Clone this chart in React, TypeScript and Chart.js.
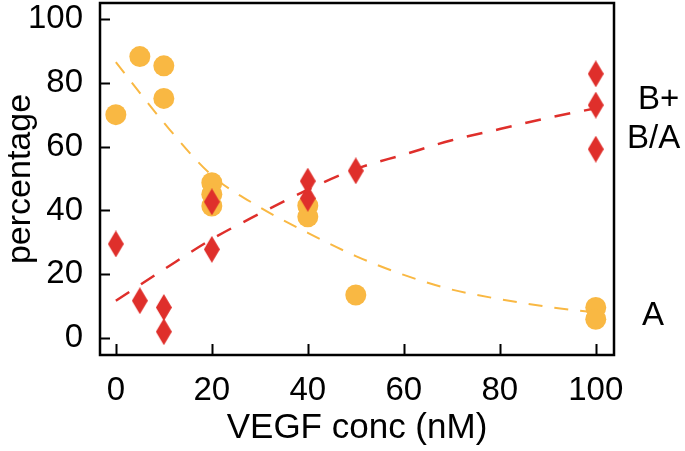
import React, { useEffect, useRef } from "react";
import { Chart, registerables } from "chart.js";

Chart.register(...registerables);

// Data
const orangeX = [0, 5, 10, 10, 20, 20, 20, 40, 40, 50, 100, 100];
const orangeY = [70, 88.2, 85.3, 75.1, 48.7, 45.1, 41.4, 41.5, 38, 13.5, 9.6, 5.9];
const redX = [0, 5, 10, 10, 20, 20, 40, 40, 50, 100, 100, 100];
const redY = [29.5, 11.7, 9.6, 2, 27.8, 42.7, 49.2, 43.8, 52.4, 82.8, 73, 59.2];
const fitX = [0, 10, 20, 30, 40, 50, 60, 70, 80, 90, 100];
const orangeFit = [86.5, 67.5, 51, 41, 33, 25.7, 19.8, 15.2, 12.2, 9.8, 8];
const redFit = [11.7, 21.5, 31, 39, 46.5, 53, 57.5, 62, 65.5, 69, 72];
const yTicks = [0, 20, 40, 60, 80, 100];
const xTicks = [0, 20, 40, 60, 80, 100];
const sideLabels = ["B+", "B/A", "A"];
const sideLabelValues = [74.6, 62.3, 7.0];

const ORANGE = "#F9B843";
const RED = "#DF2F2B";
const FONT = "'Liberation Sans', Arial, Helvetica, sans-serif";

function zip(xs: number[], ys: number[]) {
  return xs.map((x, i) => ({ x, y: ys[i] }));
}

function makeDiamond(color: string) {
  const c = document.createElement("canvas");
  const w = 16, h = 27;
  c.width = w;
  c.height = h;
  const g = c.getContext("2d")!;
  g.fillStyle = color;
  g.beginPath();
  g.moveTo(w / 2, 0);
  g.lineTo(w, h / 2);
  g.lineTo(w / 2, h);
  g.lineTo(0, h / 2);
  g.closePath();
  g.fill();
  return c;
}

const frameTicksPlugin = {
  id: "frameTicks",
  afterDatasetsDraw(chart: any) {
    const { ctx, chartArea: a, scales } = chart;
    const xs = scales.x, ys = scales.y;
    ctx.save();
    ctx.strokeStyle = "#000";
    ctx.lineWidth = 2;
    ctx.beginPath();
    yTicks.forEach((v) => {
      const py = Math.round(ys.getPixelForValue(v)) + 0.5;
      ctx.moveTo(a.left, py);
      ctx.lineTo(a.left + 10, py);
    });
    xTicks.forEach((v) => {
      const px = Math.round(xs.getPixelForValue(v)) + 0.5;
      ctx.moveTo(px, a.bottom);
      ctx.lineTo(px, a.bottom - 11);
    });
    ctx.stroke();
    ctx.lineWidth = 2.5;
    ctx.strokeRect(a.left, a.top, a.right - a.left, a.bottom - a.top);
    // side labels
    ctx.fillStyle = "#000";
    ctx.font = `33px ${FONT}`;
    ctx.textBaseline = "middle";
    const lefts = [638, 627, 642];
    sideLabels.forEach((t, i) => {
      ctx.textAlign = "left";
      ctx.fillText(t, lefts[i], ys.getPixelForValue(sideLabelValues[i]));
    });
    ctx.restore();
  },
};

export default function App() {
  const ref = useRef<HTMLCanvasElement | null>(null);
  useEffect(() => {
    if (!ref.current) return;
    const diamond = makeDiamond(RED);
    const chart = new Chart(ref.current, {
      type: "scatter",
      data: {
        datasets: [
          {
            label: "A fit",
            data: zip(fitX, orangeFit),
            showLine: true,
            borderColor: ORANGE,
            borderWidth: 2,
            borderDash: [14, 12],
            pointRadius: 0,
            cubicInterpolationMode: "monotone",
            order: 3,
          } as any,
          {
            label: "A",
            data: zip(orangeX, orangeY),
            pointStyle: "circle",
            pointRadius: 10.5,
            backgroundColor: ORANGE,
            borderColor: ORANGE,
            borderWidth: 0,
            order: 2,
          },
          {
            label: "B fit",
            data: zip(fitX, redFit),
            showLine: true,
            borderColor: RED,
            borderWidth: 2.5,
            borderDash: [16, 14],
            pointRadius: 0,
            cubicInterpolationMode: "monotone",
            order: 1,
          } as any,
          {
            label: "B+ B/A",
            data: zip(redX, redY),
            pointStyle: diamond,
            pointRadius: 10,
            backgroundColor: RED,
            borderColor: RED,
            order: 0,
          } as any,
        ],
      },
      options: {
        animation: false,
        responsive: true,
        maintainAspectRatio: false,
        plugins: { legend: { display: false }, tooltip: { enabled: false } },
        layout: { autoPadding: false, padding: { top: 3, right: 71, left: 0, bottom: 0 } },
        scales: {
          x: {
            type: "linear",
            min: -3.3,
            max: 103.8,
            afterFit: (s: any) => {
              s.height = 96;
              s.paddingLeft = 0;
              s.paddingRight = 0;
            },
            afterBuildTicks: (s: any) => {
              s.ticks = xTicks.map((v) => ({ value: v }));
            },
            grid: { display: false, drawTicks: false },
            border: { display: false },
            ticks: {
              padding: 16,
              color: "#000",
              font: { family: FONT, size: 33 },
              maxRotation: 0,
            },
            title: {
              display: true,
              text: "VEGF conc (nM)",
              color: "#000",
              font: { family: FONT, size: 35 },
              padding: { top: 0, bottom: 2 },
            },
          },
          y: {
            type: "linear",
            min: -5.3,
            max: 105,
            afterFit: (s: any) => {
              s.width = 100;
              s.paddingTop = 0;
              s.paddingBottom = 0;
            },
            afterBuildTicks: (s: any) => {
              s.ticks = yTicks.map((v) => ({ value: v }));
            },
            grid: { display: false, drawTicks: false },
            border: { display: false },
            ticks: {
              padding: 17,
              color: "#000",
              font: { family: FONT, size: 33 },
            },
            title: {
              display: true,
              text: "percentage",
              color: "#000",
              font: { family: FONT, size: 34 },
              padding: { top: 0, bottom: 0 },
            },
          },
        },
      },
      plugins: [frameTicksPlugin],
    });
    return () => chart.destroy();
  }, []);
  return (
    <div style={{ position: "absolute", left: 0, top: 0, width: 685, height: 451, background: "#fff" }}>
      <canvas ref={ref} />
    </div>
  );
}
